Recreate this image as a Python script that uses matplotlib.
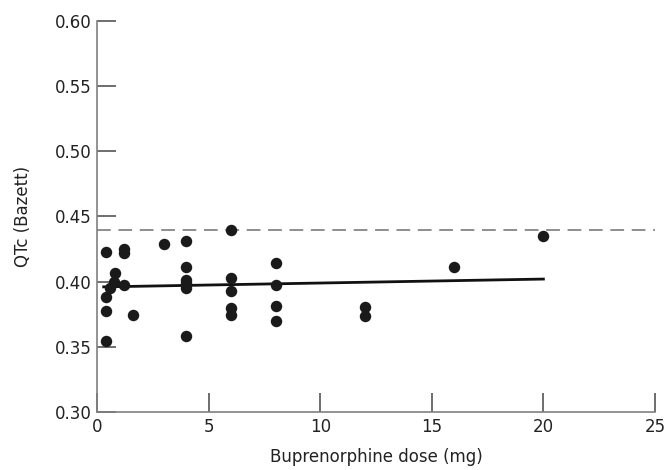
import numpy as np
import matplotlib
matplotlib.use("Agg")
import matplotlib.pyplot as plt

# buprenorphine dose (mg) and QTc (Bazett)
dose = [0.4, 0.4, 0.4, 0.4, 0.6, 0.75, 0.8, 1.2, 1.2, 1.2, 1.6, 3.0,
        4, 4, 4, 4, 4, 4,
        6, 6, 6, 6, 6,
        8, 8, 8, 8,
        12, 12, 16, 20]
qtc = [0.4225, 0.388, 0.3777, 0.3547, 0.395, 0.400, 0.4064, 0.4248, 0.4222, 0.3975, 0.3744, 0.429,
       0.4314, 0.4115, 0.4013, 0.3987, 0.395, 0.3583,
       0.440, 0.4026, 0.3928, 0.3796, 0.3744,
       0.414, 0.3975, 0.3816, 0.370,
       0.3803, 0.3737, 0.4115, 0.4353]

fit_x = [0.3, 20]
fit_y = [0.3960, 0.4020]
ref_qtc = 0.44

xticks = [0, 5, 10, 15, 20, 25]
yticks = [0.30, 0.35, 0.40, 0.45, 0.50, 0.55, 0.60]

plt.rcParams['font.family'] = ['DejaVu Sans']
fig = plt.figure(figsize=(6.7, 4.7), dpi=100)
ax = fig.add_axes([97/670, 58/470, 558/670, 391/470])

ax.axhline(ref_qtc, color='#707070', lw=1.1, dashes=(9, 5))
ax.plot(fit_x, fit_y, color='#111111', lw=2)
ax.scatter(dose, qtc, s=68, color='#1a1a1a', zorder=3, linewidths=0)

ax.set_xlim(0, 25)
ax.set_ylim(0.30, 0.60)
ax.set_xticks(xticks)
ax.set_xticklabels([str(t) for t in xticks])
ax.set_yticks(yticks)
ax.set_yticklabels(['%.2f' % t for t in yticks])

for side in ['top', 'right']:
    ax.spines[side].set_visible(False)
for side in ['left', 'bottom']:
    ax.spines[side].set_color('#808080')
    ax.spines[side].set_linewidth(1.2)

ax.tick_params(direction='in', length=14, width=1.2, color='#555555',
               labelsize=12, labelcolor='#222222', pad=4)

ax.set_xlabel('Buprenorphine dose (mg)', fontsize=12, color='#222222', labelpad=9)
ax.set_ylabel('QTc (Bazett)', fontsize=12, color='#222222', labelpad=16)

fig.savefig('out.png', dpi=100)
